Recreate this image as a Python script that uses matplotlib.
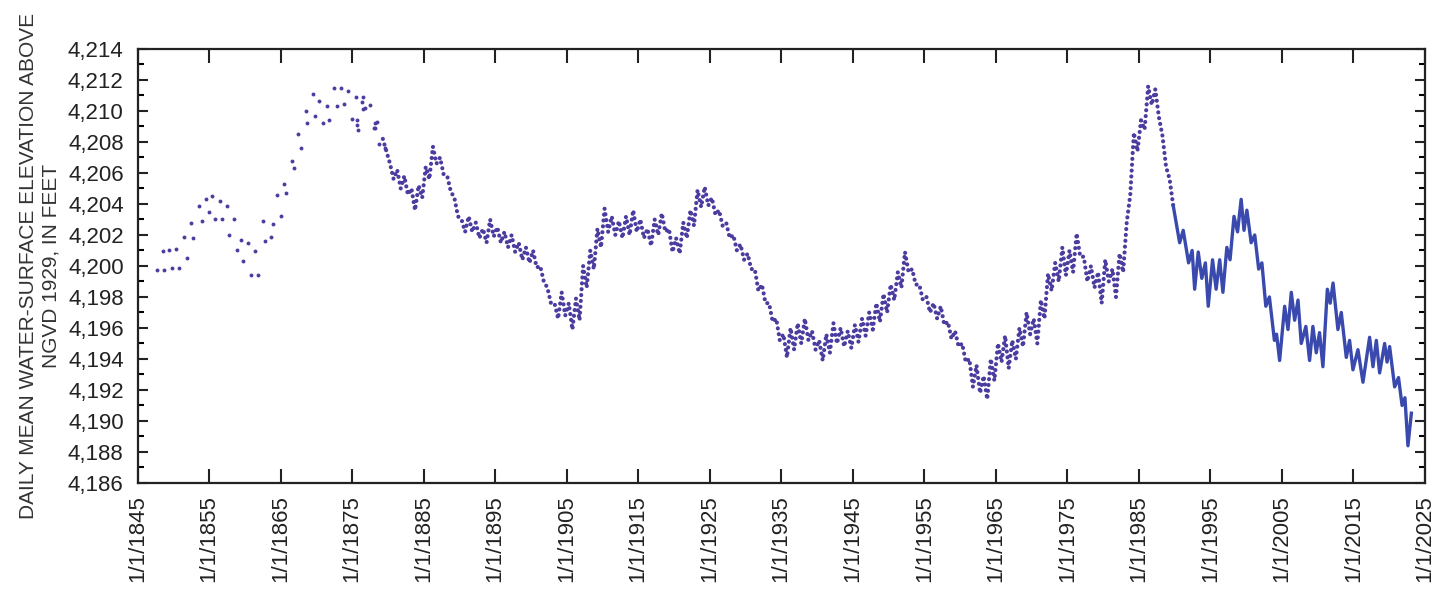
import numpy as np
import matplotlib
matplotlib.use("Agg")
import matplotlib.pyplot as plt
from matplotlib.ticker import MultipleLocator, FuncFormatter

plt.rcParams['font.family'] = ['Liberation Sans', 'DejaVu Sans']

# early sparse readings, 1847-1879 (decimal year, elevation in feet)
early_year = [1847.77, 1848.70, 1849.78, 1850.80, 1848.52, 1849.44, 1850.38, 1851.96,
              1851.50, 1852.80, 1852.52, 1853.97, 1853.55, 1854.99, 1855.83, 1856.85,
              1858.53, 1854.57, 1855.41, 1856.49, 1857.55, 1857.83, 1859.42, 1860.49,
              1858.95, 1859.70, 1860.82, 1861.84, 1861.46, 1862.86, 1863.62, 1862.58,
              1863.90, 1865.01, 1864.46, 1865.80, 1865.43, 1866.59, 1866.87, 1867.47,
              1867.85, 1868.51, 1868.69, 1869.53, 1869.85, 1870.41, 1870.88, 1871.44,
              1871.81, 1872.46, 1873.48, 1874.42, 1872.92, 1873.86, 1874.94, 1875.54,
              1876.47, 1876.56, 1877.49, 1878.43, 1878.10, 1878.79, 1879.59, 1875.70,
              1875.75, 1875.80, 1878.20, 1878.25, 1876.40, 1876.80]
early_elev = [4199.75, 4199.75, 4199.85, 4199.85, 4200.95, 4201.0, 4201.1, 4200.5,
              4201.9, 4201.8, 4202.8, 4202.9, 4203.9, 4203.5, 4203.0, 4203.0,
              4203.0, 4204.3, 4204.5, 4204.2, 4203.85, 4202.0, 4201.7, 4201.5,
              4201.0, 4200.3, 4199.4, 4199.4, 4200.95, 4201.6, 4201.9, 4202.9,
              4202.7, 4203.2, 4204.6, 4204.7, 4205.3, 4206.8, 4206.35, 4208.5,
              4207.6, 4210.0, 4209.25, 4211.1, 4209.7, 4210.65, 4209.2, 4210.35,
              4209.4, 4211.5, 4211.5, 4211.3, 4210.35, 4210.45, 4209.5, 4210.9,
              4210.9, 4210.1, 4210.4, 4209.3, 4208.9, 4207.9, 4207.6, 4209.4,
              4209.1, 4208.8, 4209.2, 4208.9, 4210.6, 4210.2]

# seasonal high / low for each year of the dense daily record, 1879-1989
daily_years = list(range(1879, 1990))
season_high = [4208.2, 4206.6, 4206.2, 4205.8, 4205.0, 4205.2, 4206.4, 4207.7, 4207.0, 4205.8,
               4204.4, 4203.0, 4203.2, 4202.8, 4202.4, 4203.0, 4202.5, 4202.2, 4202.0, 4201.5,
               4201.2, 4201.0, 4200.0, 4198.6, 4197.6, 4198.3, 4197.6, 4197.9, 4200.0, 4201.0,
               4202.4, 4203.7, 4203.2, 4202.9, 4203.2, 4203.6, 4203.0, 4202.4, 4203.0, 4203.4,
               4202.4, 4201.8, 4202.8, 4203.6, 4204.9, 4205.1, 4204.4, 4203.6, 4202.8, 4202.0,
               4201.4, 4200.8, 4199.8, 4198.8, 4197.6, 4196.6, 4195.6, 4196.0, 4196.3, 4196.6,
               4195.8, 4195.2, 4195.6, 4196.3, 4196.0, 4195.8, 4196.2, 4196.6, 4197.0, 4197.6,
               4198.2, 4198.8, 4199.6, 4200.9, 4199.8, 4198.8, 4198.0, 4197.6, 4197.4, 4196.4,
               4195.8, 4195.0, 4194.0, 4193.6, 4192.9, 4194.0, 4195.0, 4195.5, 4195.2, 4196.0,
               4197.0, 4196.6, 4197.8, 4199.5, 4200.2, 4201.2, 4201.0, 4202.1, 4200.6, 4200.0,
               4199.6, 4200.4, 4199.8, 4200.8, 4202.8, 4208.6, 4209.4, 4211.6, 4211.4, 4208.4,
               4205.6]
season_low = [4207.4, 4205.6, 4205.0, 4204.6, 4203.6, 4204.4, 4205.6, 4206.6, 4205.9, 4204.8,
              4203.2, 4202.2, 4202.2, 4201.8, 4201.5, 4201.9, 4201.5, 4201.2, 4200.9, 4200.4,
              4200.2, 4199.9, 4199.0, 4197.6, 4196.6, 4196.8, 4195.9, 4196.5, 4198.6, 4199.8,
              4201.2, 4202.2, 4202.0, 4201.8, 4202.0, 4202.2, 4201.8, 4201.3, 4202.0, 4202.2,
              4200.9, 4200.8, 4201.8, 4202.6, 4203.8, 4203.9, 4203.3, 4202.6, 4201.8, 4201.0,
              4200.4, 4199.8, 4198.4, 4197.6, 4196.4, 4195.2, 4194.1, 4194.6, 4195.0, 4195.2,
              4194.6, 4193.9, 4194.4, 4195.0, 4194.8, 4194.7, 4195.1, 4195.5, 4195.9, 4196.4,
              4197.0, 4197.8, 4198.6, 4199.6, 4198.8, 4197.8, 4197.0, 4196.6, 4196.2, 4195.3,
              4194.8, 4193.8, 4192.2, 4191.8, 4191.4, 4192.6, 4193.8, 4193.4, 4194.0, 4194.8,
              4195.6, 4195.0, 4196.6, 4198.4, 4199.0, 4199.4, 4199.6, 4200.6, 4199.0, 4198.6,
              4197.6, 4199.0, 4198.0, 4199.6, 4204.6, 4207.4, 4208.8, 4210.4, 4209.6, 4206.4,
              4203.9]

# continuous record, 1990-2023
recent_year = [1989.8, 1990.7, 1991.2, 1991.95, 1992.45, 1992.8, 1993.3, 1993.8, 1994.3, 1994.7,
               1995.3, 1995.8, 1996.3, 1996.75, 1997.3, 1997.75, 1998.3, 1998.8, 1999.3, 1999.7,
               2000.1, 2000.7, 2001.2, 2001.75, 2002.2, 2002.75, 2003.25, 2003.95, 2004.25, 2004.68,
               2005.38, 2005.85, 2006.31, 2006.78, 2007.25, 2007.7, 2008.35, 2008.87, 2009.33, 2009.8,
               2010.26, 2010.73, 2011.35, 2011.75, 2012.15, 2012.83, 2013.3, 2014.0, 2014.46, 2014.93,
               2015.63, 2016.33, 2017.26, 2017.73, 2018.2, 2018.66, 2019.36, 2019.7, 2020.06, 2020.76,
               2021.3, 2021.8, 2022.2, 2022.62, 2023.1]
recent_elev = [4203.9, 4201.5, 4202.3, 4200.2, 4201.0, 4198.5, 4200.9, 4199.2, 4200.2, 4197.4,
               4200.4, 4198.5, 4200.4, 4198.3, 4201.2, 4200.4, 4203.2, 4202.2, 4204.3, 4202.3,
               4203.6, 4201.5, 4202.0, 4199.8, 4200.2, 4197.4, 4198.0, 4195.2, 4195.6, 4193.9,
               4197.4, 4195.9, 4198.3, 4196.5, 4197.8, 4195.0, 4196.1, 4193.9, 4196.1, 4194.4,
               4195.7, 4193.5, 4198.5, 4197.6, 4198.9, 4195.9, 4197.0, 4194.1, 4195.2, 4193.3,
               4194.6, 4192.5, 4195.4, 4193.5, 4195.2, 4193.1, 4195.0, 4193.8, 4194.8, 4192.2,
               4192.8, 4191.0, 4191.5, 4188.4, 4190.5]

# interleave highs (late spring) and lows (late autumn) in time order
daily_t = []
daily_e = []
for y, hi, lo in zip(daily_years, season_high, season_low):
    daily_t += [y + 0.3, y + 0.8]
    daily_e += [hi, lo]

dot_color = '#4a3d9f'
line_color = '#3949ad'

fig = plt.figure(figsize=(14.34, 5.90), dpi=100)
ax = fig.add_axes([0.0959, 0.1814, 0.8978, 0.7356])

ax.plot(early_year, early_elev, linestyle='none', marker='o', markersize=2.8,
        color=dot_color, markeredgewidth=0)
ax.plot(daily_t, daily_e, color=dot_color, linewidth=3.0,
        linestyle=(0, (0.01, 1.4)), dash_capstyle='round')
ax.plot(recent_year, recent_elev, color=line_color, linewidth=2.4)

ax.set_xlim(1845, 2025)
ax.set_ylim(4186, 4214)
ax.set_xticks(np.arange(1845, 2026, 10))
ax.set_xticklabels(['1/1/%d' % y for y in range(1845, 2026, 10)], rotation=90)
ax.yaxis.set_major_locator(MultipleLocator(2))
ax.yaxis.set_minor_locator(MultipleLocator(1))
ax.yaxis.set_major_formatter(FuncFormatter(lambda v, p: '{:,.0f}'.format(v)))

ax.tick_params(axis='x', which='major', direction='in', top=True, length=10, width=1.5,
               labelsize=16, pad=9, colors='#222222')
ax.tick_params(axis='y', which='major', direction='in', right=True, length=7, width=1.5,
               labelsize=16, pad=10, colors='#222222')
ax.tick_params(axis='y', which='minor', direction='in', right=True, length=4, width=1.5)
for s in ax.spines.values():
    s.set_linewidth(1.6)
    s.set_color('#222222')

ax.set_ylabel('DAILY MEAN WATER-SURFACE ELEVATION ABOVE\nNGVD 1929, IN FEET',
              fontsize=15, color='#333333', labelpad=5, linespacing=1.25)

fig.savefig('out.png', dpi=100)
